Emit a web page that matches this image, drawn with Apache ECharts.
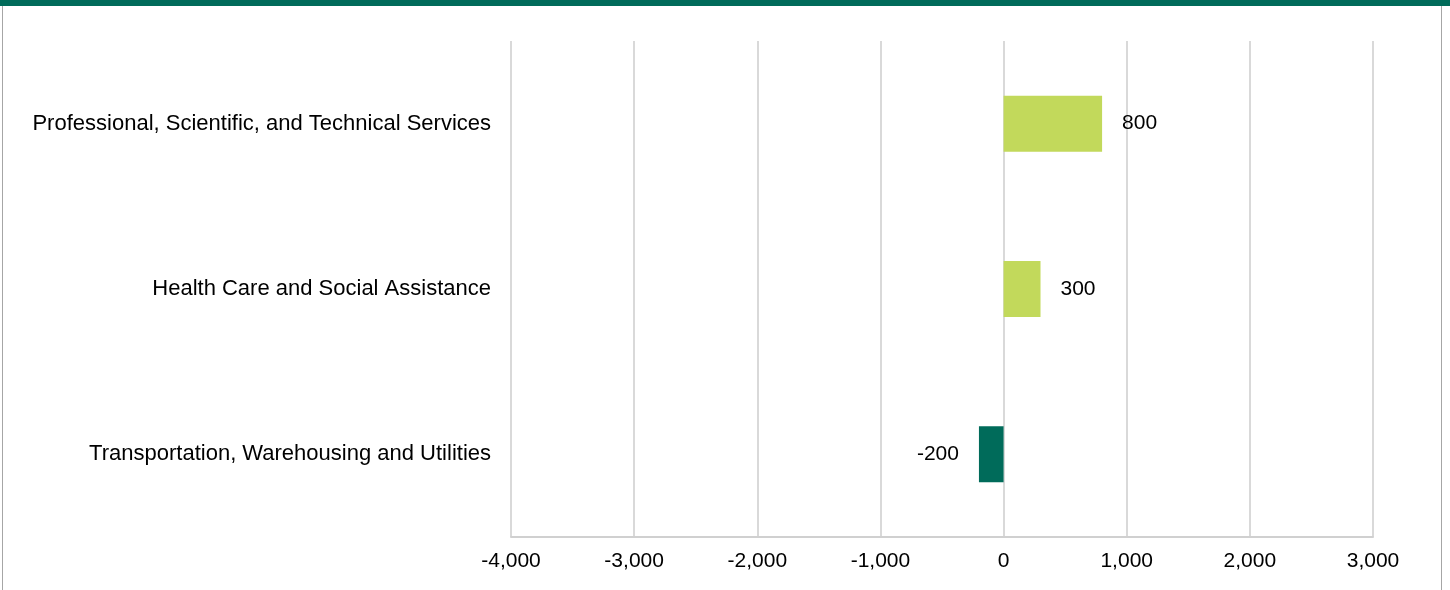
<!DOCTYPE html>
<html>
<head>
<meta charset="utf-8">
<script src="https://cdn.jsdelivr.net/npm/echarts@6/dist/echarts.min.js"></script>
<style>
  html, body { margin: 0; padding: 0; background: #fff; }
  #wrap { position: relative; width: 1450px; height: 590px; overflow: hidden; }
  #topbar { position: absolute; left: 0; top: 0; width: 1450px; height: 6px; background: #006b5a; z-index: 2; }
  #frame { position: absolute; left: 2px; top: 0; width: 1438px; height: 590px;
           border-left: 1px solid #a6a6a6; border-right: 1px solid #a6a6a6; z-index: 1; pointer-events: none; }
  #chart { position: absolute; left: 0; top: 0; width: 1450px; height: 590px; }
</style>
</head>
<body>
<div id="wrap">
  <div id="chart"></div>
  <div id="frame"></div>
  <div id="topbar"></div>
</div>
<script>
  // industries, top to bottom
  const industries = [
    "Professional, Scientific, and Technical Services",
    "Health Care and Social Assistance",
    "Transportation, Warehousing and Utilities"
  ];
  const jobChange = [800, 300, -200];

  const axisMin = -4000;
  const axisMax = 3000;
  const axisStep = 1000;

  const chart = echarts.init(document.getElementById("chart"));

  chart.setOption({
    animation: false,
    textStyle: { fontFamily: "Liberation Sans, Arial, sans-serif" },
    grid: { left: 511, right: 77, top: 41, bottom: 53 },
    xAxis: {
      type: "value",
      min: axisMin,
      max: axisMax,
      interval: axisStep,
      axisLine: { show: true, lineStyle: { color: "#d0d0d0", width: 2 } },
      axisTick: { show: false },
      axisLabel: {
        margin: 14,
        fontSize: 21,
        color: "#000",
        formatter: (v) => v.toLocaleString("en-US")
      },
      splitLine: { show: true, lineStyle: { color: "#d9d9d9", width: 2 } }
    },
    yAxis: {
      type: "category",
      data: industries,
      inverse: true,
      axisLine: { show: false },
      axisTick: { show: false },
      splitLine: { show: false },
      axisLabel: { margin: 20, fontSize: 22, color: "#000" }
    },
    series: [
      {
        type: "bar",
        barWidth: 56,
        itemStyle: {
          color: (p) => (p.value < 0 ? "#006b5a" : "#c2d95b")
        },
        label: {
          show: true,
          fontSize: 21,
          color: "#000",
          distance: 20,
          formatter: (p) => String(p.value)
        },
        // negative values put their label on the left of the bar
        data: jobChange.map((v) => ({
          value: v,
          label: { position: v < 0 ? "left" : "right" }
        }))
      }
    ]
  });
</script>
</body>
</html>
